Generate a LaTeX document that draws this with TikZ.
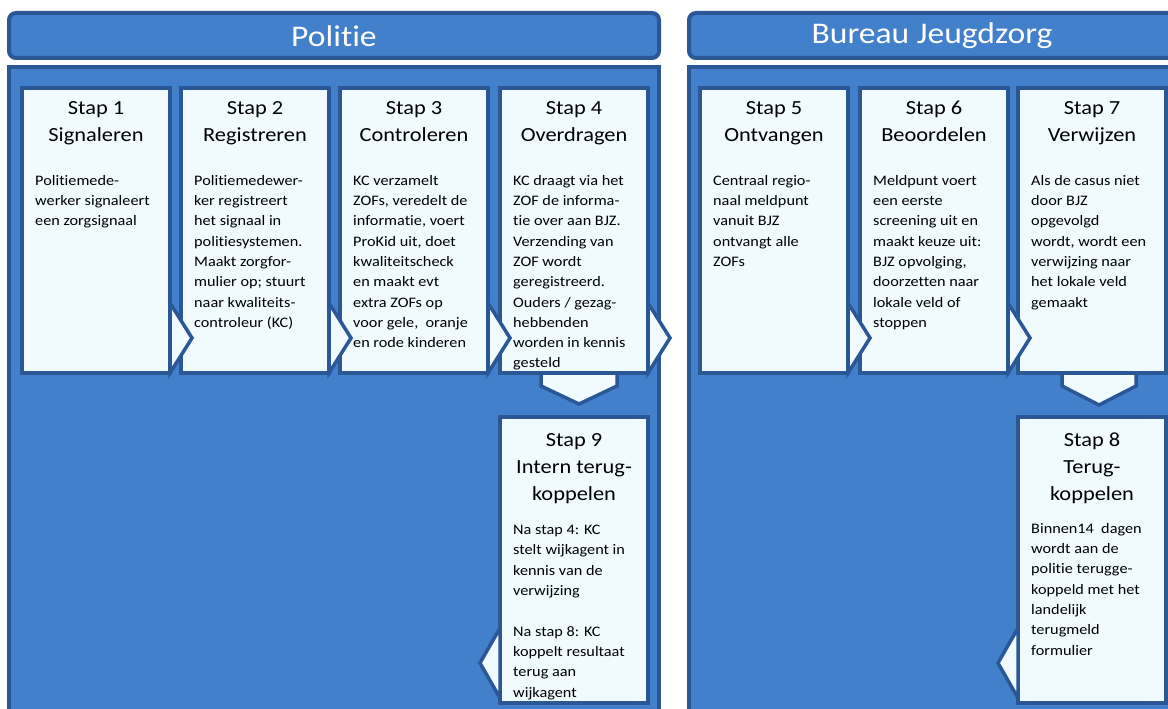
\documentclass[tikz,border=0pt]{standalone}
\usepackage{fontspec}
\setmainfont{Carlito}[FakeStretch=1.12,Ligatures=NoCommon]
\usetikzlibrary{positioning}
\definecolor{vlak}{RGB}{67,128,204}
\definecolor{rand}{RGB}{43,87,151}
\definecolor{licht}{RGB}{240,250,255}
\tikzset{balk/.style={draw=rand,fill=vlak,line width=4pt,rounded corners=7pt},
	paneel/.style={draw=rand,fill=vlak,line width=4pt},
	stap/.style={draw=rand,fill=licht,line width=3.5pt,minimum width=148pt,minimum height=285pt,anchor=north west,inner sep=0pt,outer sep=0pt},
	kop/.style={align=center,inner sep=0pt,anchor=north,font=\fontsize{20}{27}\selectfont},
	tekst/.style={align=left,inner sep=0pt,anchor=north west,font=\fontsize{14.5}{20.3}\selectfont},
	pijl/.style={draw=rand,fill=licht,line width=3.5pt,line join=miter}}
\begin{document}
\begin{tikzpicture}[x=1pt,y=-1pt]
	\useasboundingbox (0,0) rectangle (1168,709);
	\clip (0,0) rectangle (1168,709);
	% de twee kolommen
	\draw[paneel] (9,67) rectangle (659,730);
	\draw[paneel] (689,67) rectangle (1190,730);
	\draw[balk] (9,13) rectangle (659,58);
	\draw[balk] (689,13) rectangle (1176,58);
	\node[text=white,font=\fontsize{30}{30}\selectfont] (politie) at (334,36) {Politie};
	\node[text=white,font=\fontsize{30}{30}\selectfont] (bjz) at (932,36) {Bureau Jeugdzorg};
	% stappen
	\node[stap] (s1) at (22,88) {};
	\node[stap] (s2) at (181,88) {};
	\node[stap] (s3) at (340,88) {};
	\node[stap] (s4) at (500,88) {};
	\node[stap] (s5) at (700,88) {};
	\node[stap] (s6) at (860,88) {};
	\node[stap] (s7) at (1018,88) {};
	\node[stap,minimum height=286pt] (s9) at (500,417) {};
	\node[stap,minimum height=286pt] (s8) at (1018,417) {};
	% pijlen
	\draw[pijl] ([yshift=70pt]s1.south east)--++(22,35)--++(-22,35)--cycle;
	\draw[pijl] ([yshift=70pt]s2.south east)--++(22,35)--++(-22,35)--cycle;
	\draw[pijl] ([yshift=70pt]s3.south east)--++(22,35)--++(-22,35)--cycle;
	\draw[pijl] ([yshift=70pt]s4.south east)--++(22,35)--++(-22,35)--cycle;
	\draw[pijl] ([yshift=70pt]s5.south east)--++(22,35)--++(-22,35)--cycle;
	\draw[pijl] ([yshift=70pt]s6.south east)--++(22,35)--++(-22,35)--cycle;
	\draw[pijl] ([xshift=-33pt]s4.south)--++(0,13)--++(38,18)--++(38,-18)--++(0,-13)--cycle;
	\draw[pijl] ([xshift=-30pt]s7.south)--++(0,13)--++(37,19)--++(37,-19)--++(0,-13)--cycle;
	\draw[pijl] ([yshift=5pt]s9.south west)--++(-20,-35)--++(20,-35)--cycle;
	\draw[pijl] ([yshift=5pt]s8.south west)--++(-20,-35)--++(20,-35)--cycle;
	% teksten
	\node[kop] (k1) at ([yshift=-13pt]s1.north) {Stap 1\\Signaleren};
	\node[kop] (k2) at ([yshift=-13pt]s2.north) {Stap 2\\Registreren};
	\node[kop] (k3) at ([yshift=-13pt]s3.north) {Stap 3\\Controleren};
	\node[kop] (k4) at ([yshift=-13pt]s4.north) {Stap 4\\Overdragen};
	\node[kop] (k5) at ([yshift=-13pt]s5.north) {Stap 5\\Ontvangen};
	\node[kop] (k6) at ([yshift=-13pt]s6.north) {Stap 6\\Beoordelen};
	\node[kop] (k7) at ([yshift=-13pt]s7.north) {Stap 7\\Verwijzen};
	\node[kop] (k9) at ([yshift=-16pt]s9.north) {Stap 9\\Intern terug-\\koppelen};
	\node[kop] (k8) at ([yshift=-16pt]s8.north) {Stap 8\\Terug-\\koppelen};
	\node[tekst] (t1) at ([xshift=13pt,yshift=-87pt]s1.north west) {Politiemede-\\werker signaleert\\een zorgsignaal};
	\node[tekst] (t2) at ([xshift=13pt,yshift=-87pt]s2.north west) {Politiemedewer-\\ker registreert\\het signaal in\\politiesystemen.\\Maakt zorgfor-\\mulier op; stuurt\\naar kwaliteits-\\controleur (KC)};
	\node[tekst] (t3) at ([xshift=13pt,yshift=-87pt]s3.north west) {KC verzamelt\\ZOFs, veredelt de\\informatie, voert\\ProKid uit, doet\\kwaliteitscheck\\en maakt evt\\extra ZOFs op\\voor gele,~ oranje\\en rode kinderen};
	\node[tekst] (t4) at ([xshift=13pt,yshift=-87pt]s4.north west) {KC draagt via het\\ZOF de informa-\\tie over aan BJZ.\\Verzending van\\ZOF wordt\\geregistreerd.\\Ouders / gezag-\\hebbenden\\worden in kennis\\gesteld};
	\node[tekst] (t5) at ([xshift=13pt,yshift=-87pt]s5.north west) {Centraal regio-\\naal meldpunt\\vanuit BJZ\\ontvangt alle\\ZOFs};
	\node[tekst] (t6) at ([xshift=13pt,yshift=-87pt]s6.north west) {Meldpunt voert\\een eerste\\screening uit en\\maakt keuze uit:\\BJZ opvolging,\\doorzetten naar\\lokale veld of\\stoppen};
	\node[tekst] (t7) at ([xshift=13pt,yshift=-87pt]s7.north west) {Als de casus niet\\door BJZ\\opgevolgd\\wordt, wordt een\\verwijzing naar\\het lokale veld\\gemaakt};
	\node[tekst] (t9) at ([xshift=13pt,yshift=-108pt]s9.north west) {Na stap 4: KC\\stelt wijkagent in\\kennis van de\\verwijzing\\[20.3pt]Na stap 8: KC\\koppelt resultaat\\terug aan\\wijkagent};
	\node[tekst] (t8) at ([xshift=13pt,yshift=-106pt]s8.north west) {Binnen14~ dagen\\wordt aan de\\politie terugge-\\koppeld met het\\landelijk\\terugmeld\\formulier};
\end{tikzpicture}
\end{document}
